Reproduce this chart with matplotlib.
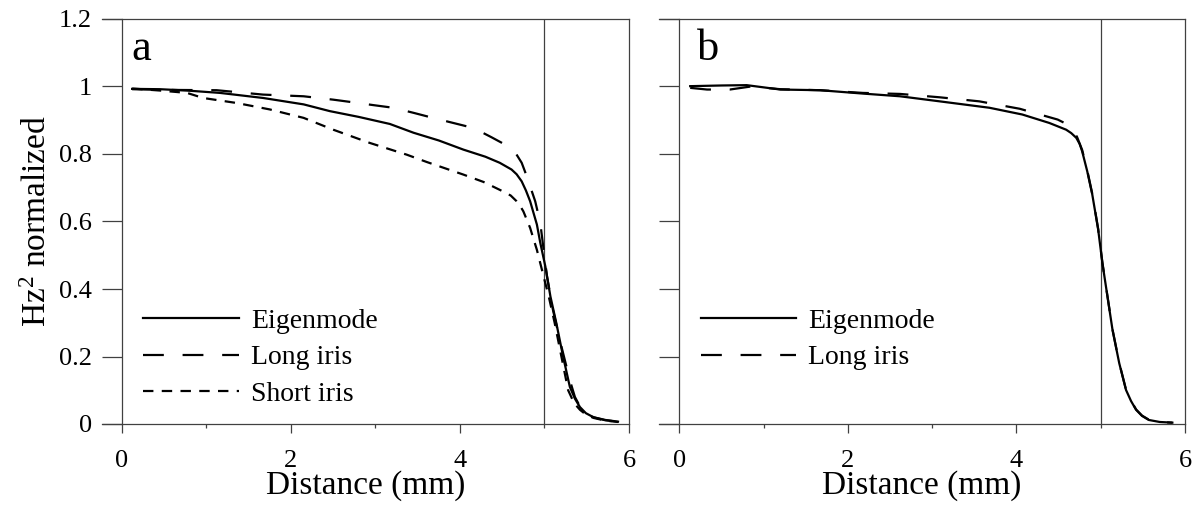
import matplotlib
matplotlib.use("Agg")
import matplotlib.pyplot as plt
from matplotlib.ticker import FixedLocator

plt.rcParams['font.family'] = ['Liberation Serif', 'DejaVu Serif']
plt.rcParams['mathtext.fontset'] = 'custom'
plt.rcParams['mathtext.rm'] = 'Liberation Serif'
plt.rcParams['mathtext.it'] = 'Liberation Serif'
plt.rcParams['lines.scale_dashes'] = False

# ---- data (panel a) ----
a_eig_x = [0.12, 0.45, 0.77, 1.16, 1.67, 2.15, 2.46, 2.80, 3.17, 3.45, 3.75, 4.04, 4.30, 4.47,
           4.61, 4.67, 4.73, 4.78, 4.83, 4.91, 4.95, 5.01, 5.07, 5.14, 5.22, 5.30, 5.36, 5.42,
           5.49, 5.58, 5.72, 5.87]
a_eig_y = [0.993, 0.992, 0.988, 0.981, 0.966, 0.947, 0.927, 0.910, 0.889, 0.863, 0.840, 0.813,
           0.792, 0.774, 0.754, 0.740, 0.719, 0.692, 0.660, 0.591, 0.537, 0.467, 0.378, 0.299,
           0.200, 0.110, 0.075, 0.050, 0.032, 0.020, 0.012, 0.007]
a_long_x = [0.12, 0.50, 1.12, 1.67, 2.15, 2.50, 2.74, 2.97, 3.21, 3.45, 3.68, 3.92, 4.16, 4.37,
            4.57, 4.66, 4.73, 4.79, 4.89, 4.95, 4.99, 5.03, 5.10, 5.20, 5.30, 5.36, 5.42, 5.49,
            5.58, 5.72, 5.87]
a_long_y = [0.992, 0.990, 0.989, 0.976, 0.971, 0.961, 0.953, 0.945, 0.937, 0.922, 0.907, 0.892,
            0.877, 0.850, 0.823, 0.802, 0.774, 0.734, 0.660, 0.596, 0.516, 0.437, 0.338, 0.230,
            0.130, 0.080, 0.052, 0.032, 0.020, 0.011, 0.007]
a_short_x = [0.12, 0.45, 0.77, 0.96, 1.36, 1.75, 2.15, 2.50, 2.93, 3.37, 3.61, 4.04, 4.28, 4.51,
             4.60, 4.67, 4.71, 4.75, 4.83, 4.91, 4.99, 5.05, 5.12, 5.20, 5.28, 5.35, 5.42, 5.49,
             5.58, 5.72, 5.87]
a_short_y = [0.994, 0.988, 0.981, 0.966, 0.951, 0.932, 0.907, 0.872, 0.833, 0.798, 0.776, 0.739,
             0.717, 0.689, 0.677, 0.660, 0.647, 0.630, 0.581, 0.516, 0.437, 0.378, 0.300, 0.200,
             0.100, 0.062, 0.042, 0.028, 0.018, 0.010, 0.006]

# ---- data (panel b) ----
b_eig_x = [0.13, 0.50, 0.80, 1.20, 1.67, 2.18, 2.62, 3.09, 3.68, 4.07, 4.39, 4.59, 4.65, 4.71,
           4.75, 4.78, 4.84, 4.90, 4.97, 5.02, 5.08, 5.14, 5.22, 5.30, 5.36, 5.42, 5.49, 5.57,
           5.70, 5.85]
b_eig_y = [1.001, 1.003, 1.004, 0.991, 0.989, 0.979, 0.971, 0.956, 0.937, 0.917, 0.892, 0.872,
           0.862, 0.848, 0.830, 0.808, 0.749, 0.680, 0.576, 0.477, 0.378, 0.279, 0.180, 0.101,
           0.068, 0.042, 0.024, 0.012, 0.006, 0.004]
b_long_x = [0.13, 0.33, 0.60, 0.85, 1.20, 1.67, 2.18, 2.62, 3.09, 3.56, 4.04, 4.49, 4.61, 4.67,
            4.72, 4.78, 4.84, 4.90, 4.97, 5.02, 5.08, 5.14, 5.22, 5.30, 5.36, 5.42, 5.49, 5.57,
            5.70, 5.85]
b_long_y = [0.996, 0.991, 0.991, 1.000, 0.992, 0.989, 0.981, 0.978, 0.968, 0.956, 0.934, 0.902,
            0.887, 0.872, 0.850, 0.812, 0.752, 0.682, 0.578, 0.478, 0.379, 0.280, 0.181, 0.102,
            0.069, 0.043, 0.025, 0.013, 0.006, 0.004]

y_ticks = [0, 0.2, 0.4, 0.6, 0.8, 1.0, 1.2]
y_tick_labels = ["0", "0.2", "0.4", "0.6", "0.8", "1", "1.2"]
x_major = [0, 2, 4, 6]
x_minor = [1, 3, 5]
x_tick_labels = ["0", "2", "4", "6"]
iris_edge = 5.0

W, H = 1194, 508
fig = plt.figure(figsize=(W / 100, H / 100), dpi=100)
axL = fig.add_axes([101.7 / W, (508 - 424) / H, 527.3 / W, 405 / H])
axR = fig.add_axes([659 / W, (508 - 424) / H, 526 / W, 405 / H])

spine_c = '#404040'
long_ls = (0, (15, 13.5))
short_ls = (0, (7.5, 6))
lw = 1.6

def style(ax, show_ylabels):
    ax.set_xlim(-0.24, 6)
    ax.set_ylim(0, 1.2)
    ax.spines['left'].set_position(('data', 0))
    for s in ax.spines.values():
        s.set_color(spine_c)
        s.set_linewidth(0.9)
    ax.xaxis.set_major_locator(FixedLocator(x_major))
    ax.xaxis.set_minor_locator(FixedLocator(x_minor))
    ax.set_xticklabels(x_tick_labels)
    ax.yaxis.set_major_locator(FixedLocator(y_ticks))
    if show_ylabels:
        ax.set_yticklabels(y_tick_labels)
    else:
        ax.set_yticklabels([])
    ax.tick_params(axis='x', which='major', direction='out', length=6.5, width=0.9,
                   color=spine_c, pad=12, labelsize=19)
    ax.tick_params(axis='x', which='minor', direction='out', length=3, width=0.9, color=spine_c)
    ax.tick_params(axis='y', which='major', direction='out', length=14.5, width=0.9,
                   color=spine_c, pad=7, labelsize=19)
    ax.axvline(iris_edge, color=spine_c, lw=0.9, zorder=1)
    ax.set_xlabel("Distance (mm)", fontsize=24, labelpad=-1)

style(axL, True)
style(axR, False)

axL.plot(a_eig_x, a_eig_y, color='black', lw=lw, ls='-', label='Eigenmode', zorder=3)
axL.plot(a_long_x, a_long_y, color='black', lw=lw, ls=long_ls, label='Long iris', zorder=3)
axL.plot(a_short_x, a_short_y, color='black', lw=lw, ls=short_ls, label='Short iris', zorder=3)

axR.plot(b_eig_x, b_eig_y, color='black', lw=lw, ls='-', label='Eigenmode', zorder=3)
axR.plot(b_long_x, b_long_y, color='black', lw=lw, ls=long_ls, label='Long iris', zorder=3)

axL.set_ylabel("Hz$^{2}$ normalized", fontsize=24, labelpad=4)

for ax in (axL, axR):
    ax.legend(loc='upper left', bbox_to_anchor=(0.079, 0.285), frameon=False, fontsize=20,
              handlelength=3.45, handletextpad=0.43, labelspacing=0.39, borderpad=0,
              borderaxespad=0)

axL.text(0.057, 0.899, "a", transform=axL.transAxes, fontsize=32, va='baseline', ha='left')
axR.text(0.072, 0.899, "b", transform=axR.transAxes, fontsize=32, va='baseline', ha='left')

fig.savefig("out.png", dpi=100)
